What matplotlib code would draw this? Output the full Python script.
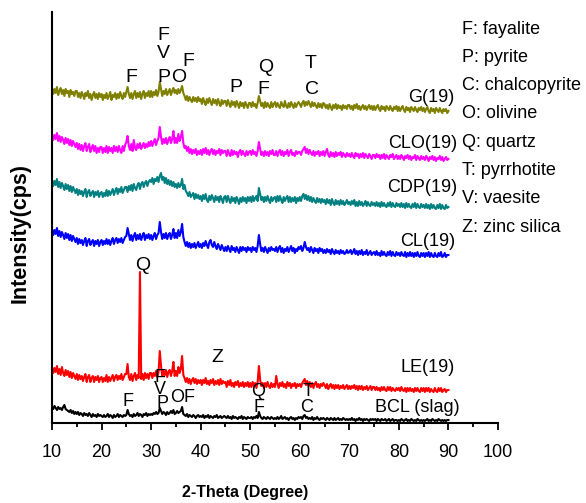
import numpy as np
import matplotlib
matplotlib.use("Agg")
import matplotlib.pyplot as plt

plt.rcParams['font.family'] = ['Liberation Sans', 'DejaVu Sans']

# 2-theta scan from 10 to 90 degrees, 0.25 degree step
two_theta = np.linspace(10, 90, 321)

# intensities (arbitrary cps), one row = 5 degrees
g19 = [
    30, 24, 29, 25, 31, 23, 27, 30, 24, 28, 22, 29, 25, 27, 21, 28, 24, 26, 22, 27,
    27, 21, 25, 20, 26, 23, 19, 25, 22, 27, 20, 24, 18, 23, 26, 20, 24, 19, 25, 21,
    24, 18, 23, 20, 25, 19, 22, 26, 18, 23, 21, 25, 19, 24, 20, 26, 22, 19, 25, 21,
    26, 31, 24, 20, 25, 19, 24, 27, 20, 25, 21, 26, 19, 24, 27, 20, 25, 22, 27, 21,
    27, 21, 26, 23, 28, 22, 26, 36, 29, 22, 27, 24, 29, 23, 26, 29, 23, 27, 30, 25,
    28, 24, 29, 25, 28, 32, 25, 22, 18, 22, 17, 21, 18, 16, 21, 17, 20, 16, 21, 17,
    19, 14, 20, 16, 13, 19, 15, 20, 16, 13, 19, 15, 18, 13, 19, 15, 12, 18, 14, 17,
    17, 12, 18, 14, 11, 17, 13, 16, 11, 17, 14, 10, 16, 12, 15, 10, 16, 13, 10, 15,
    15, 11, 16, 12, 14, 10, 15, 22, 17, 12, 15, 10, 16, 11, 15, 12, 10, 16, 11, 14,
    16, 11, 15, 12, 10, 16, 13, 11, 17, 12, 10, 15, 11, 16, 13, 10, 15, 11, 14, 16,
    14, 11, 15, 17, 12, 16, 13, 17, 14, 11, 16, 12, 15, 12, 10, 15, 11, 14, 10, 15,
    14, 10, 13, 9, 14, 11, 8, 13, 10, 14, 9, 13, 10, 12, 8, 13, 10, 12, 9, 13,
    13, 9, 12, 8, 13, 10, 14, 9, 12, 8, 11, 13, 9, 12, 8, 11, 13, 9, 12, 8,
    12, 8, 11, 13, 9, 7, 12, 9, 11, 7, 12, 10, 8, 12, 9, 7, 11, 9, 12, 7,
    11, 7, 10, 12, 8, 6, 11, 8, 10, 6, 11, 9, 7, 11, 8, 6, 10, 8, 11, 7,
    10, 6, 9, 11, 7, 5, 10, 7, 9, 5, 10, 8, 6, 10, 7, 5, 9, 7, 9, 5,
    7]

clo19 = [
    31, 25, 30, 26, 32, 24, 29, 23, 28, 25, 21, 27, 22, 26, 20, 25, 19, 24, 21, 18,
    22, 16, 21, 15, 20, 14, 19, 22, 14, 18, 21, 13, 17, 20, 14, 19, 12, 17, 13, 18,
    18, 12, 17, 13, 19, 12, 18, 14, 17, 12, 19, 14, 18, 13, 19, 15, 12, 19, 14, 20,
    23, 29, 19, 15, 21, 14, 25, 17, 15, 21, 17, 22, 16, 19, 22, 17, 21, 18, 23, 19,
    24, 19, 23, 26, 20, 24, 27, 38, 28, 21, 26, 22, 27, 21, 25, 28, 22, 26, 34, 22,
    27, 22, 31, 24, 28, 34, 22, 17, 19, 14, 18, 12, 16, 11, 15, 12, 16, 10, 14, 11,
    15, 10, 16, 12, 17, 11, 15, 10, 14, 16, 11, 15, 10, 14, 12, 16, 10, 15, 12, 14,
    14, 9, 15, 11, 9, 15, 10, 14, 11, 13, 8, 13, 15, 10, 14, 11, 9, 14, 10, 13,
    14, 10, 15, 11, 13, 9, 14, 23, 16, 10, 13, 9, 14, 10, 13, 9, 14, 11, 15, 10,
    10, 14, 9, 13, 15, 10, 14, 9, 13, 11, 15, 9, 13, 15, 10, 12, 9, 14, 11, 13,
    13, 10, 14, 16, 18, 12, 16, 11, 15, 12, 10, 14, 9, 13, 11, 14, 9, 13, 10, 14,
    9, 13, 16, 10, 8, 13, 9, 12, 8, 13, 9, 12, 10, 13, 8, 12, 10, 8, 12, 9,
    11, 8, 12, 9, 7, 12, 9, 11, 7, 11, 8, 12, 7, 11, 9, 7, 11, 9, 6, 10,
    10, 7, 11, 8, 10, 6, 10, 7, 11, 6, 10, 8, 6, 10, 8, 11, 6, 8, 10, 6,
    9, 6, 10, 8, 5, 9, 7, 10, 6, 9, 5, 8, 7, 10, 5, 9, 7, 5, 9, 6,
    8, 5, 9, 7, 4, 8, 6, 9, 5, 8, 4, 7, 6, 9, 5, 8, 4, 6, 8, 5,
    6]

cdp19 = [
    33, 27, 32, 28, 34, 26, 31, 25, 30, 27, 23, 29, 24, 28, 22, 27, 21, 26, 23, 20,
    24, 18, 23, 19, 22, 17, 21, 24, 16, 21, 23, 17, 20, 22, 16, 21, 18, 22, 16, 20,
    21, 16, 20, 17, 23, 17, 22, 18, 21, 24, 18, 22, 25, 19, 24, 21, 26, 20, 23, 26,
    26, 21, 27, 23, 28, 22, 29, 25, 23, 28, 30, 24, 29, 31, 26, 30, 32, 27, 31, 33,
    31, 35, 29, 34, 32, 36, 31, 37, 40, 33, 36, 30, 35, 29, 33, 28, 32, 27, 31, 26,
    29, 25, 30, 26, 28, 34, 24, 28, 22, 20, 17, 21, 16, 18, 20, 14, 19, 15, 18, 14,
    17, 12, 18, 14, 19, 13, 11, 17, 13, 18, 15, 11, 17, 13, 16, 11, 17, 14, 10, 16,
    17, 11, 17, 13, 10, 16, 12, 15, 10, 16, 13, 9, 15, 11, 16, 12, 15, 10, 16, 12,
    16, 11, 17, 12, 15, 17, 12, 25, 19, 13, 16, 11, 16, 12, 17, 13, 10, 16, 12, 15,
    16, 11, 17, 12, 17, 13, 10, 16, 12, 15, 17, 11, 16, 11, 15, 12, 16, 10, 15, 12,
    16, 12, 17, 19, 14, 18, 13, 17, 12, 16, 11, 15, 12, 10, 15, 11, 14, 10, 14, 11,
    13, 9, 14, 10, 13, 8, 14, 10, 8, 13, 9, 12, 8, 13, 9, 12, 8, 10, 13, 9,
    11, 8, 12, 9, 13, 7, 11, 7, 12, 8, 11, 7, 9, 12, 7, 11, 8, 7, 11, 8,
    10, 7, 11, 7, 10, 6, 11, 7, 10, 7, 6, 10, 7, 11, 6, 10, 7, 6, 10, 7,
    9, 6, 10, 6, 9, 5, 10, 6, 9, 6, 5, 9, 6, 10, 5, 9, 6, 5, 9, 6,
    8, 5, 9, 5, 8, 4, 9, 5, 8, 5, 4, 8, 5, 9, 4, 8, 5, 4, 8, 5,
    6]

cl19 = [
    32, 26, 31, 27, 33, 25, 30, 24, 29, 26, 22, 28, 23, 27, 21, 26, 20, 25, 22, 19,
    23, 17, 22, 18, 21, 16, 20, 23, 15, 20, 22, 16, 19, 21, 15, 20, 17, 21, 15, 19,
    21, 16, 20, 17, 22, 17, 21, 16, 20, 23, 17, 21, 23, 18, 22, 19, 23, 18, 21, 24,
    25, 33, 27, 21, 26, 20, 25, 28, 21, 26, 22, 27, 21, 25, 28, 21, 26, 23, 27, 22,
    26, 21, 25, 28, 22, 26, 28, 39, 29, 22, 27, 23, 28, 22, 26, 28, 22, 26, 32, 23,
    28, 23, 31, 25, 29, 37, 24, 19, 15, 19, 14, 18, 13, 17, 14, 18, 13, 16, 19, 14,
    17, 13, 18, 15, 20, 16, 13, 19, 21, 16, 14, 19, 15, 12, 17, 14, 11, 16, 13, 10,
    14, 10, 15, 12, 9, 15, 11, 13, 9, 14, 11, 8, 14, 10, 14, 11, 13, 9, 14, 11,
    13, 9, 14, 11, 13, 9, 15, 26, 17, 10, 13, 9, 14, 11, 8, 13, 10, 14, 11, 12,
    10, 14, 9, 13, 15, 9, 13, 8, 12, 10, 14, 9, 12, 15, 10, 13, 8, 12, 10, 14,
    12, 15, 10, 13, 19, 14, 11, 13, 9, 14, 11, 8, 13, 10, 12, 8, 13, 10, 12, 8,
    11, 8, 12, 9, 11, 7, 12, 9, 7, 11, 8, 10, 7, 11, 8, 10, 7, 8, 11, 8,
    9, 11, 7, 9, 12, 7, 10, 6, 10, 7, 11, 6, 9, 7, 11, 6, 8, 10, 6, 8,
    9, 6, 10, 6, 8, 5, 10, 6, 9, 6, 5, 9, 6, 10, 5, 9, 6, 5, 9, 6,
    8, 5, 9, 6, 5, 9, 4, 8, 5, 9, 5, 8, 4, 8, 5, 9, 5, 4, 8, 5,
    8, 4, 8, 5, 9, 4, 8, 5, 4, 8, 5, 4, 8, 5, 9, 4, 5, 8, 4, 6,
    6]

le19 = [
    28, 22, 27, 23, 29, 21, 26, 20, 28, 22, 19, 25, 20, 24, 18, 23, 17, 22, 19, 16,
    21, 15, 20, 16, 19, 14, 18, 21, 13, 18, 20, 13, 17, 19, 13, 18, 15, 19, 13, 17,
    18, 13, 17, 14, 20, 13, 18, 14, 17, 20, 14, 18, 20, 15, 19, 16, 21, 15, 18, 21,
    21, 31, 18, 15, 21, 14, 19, 22, 15, 20, 17, 123, 16, 21, 15, 22, 17, 21, 16, 22,
    22, 17, 22, 19, 24, 18, 23, 44, 29, 19, 24, 20, 25, 18, 23, 25, 19, 24, 33, 19,
    24, 19, 28, 22, 26, 39, 20, 17, 13, 17, 12, 16, 11, 15, 17, 12, 16, 11, 15, 12,
    15, 10, 15, 12, 17, 11, 14, 10, 15, 12, 16, 10, 14, 11, 15, 10, 16, 11, 14, 12,
    13, 8, 14, 10, 15, 9, 12, 8, 13, 10, 14, 8, 12, 9, 13, 8, 12, 9, 13, 8,
    12, 8, 13, 9, 12, 7, 13, 29, 15, 9, 12, 7, 12, 8, 13, 9, 7, 12, 8, 11,
    8, 19, 11, 7, 12, 9, 13, 8, 11, 7, 13, 9, 12, 7, 11, 9, 12, 7, 11, 9,
    11, 8, 12, 14, 16, 10, 14, 9, 13, 8, 12, 7, 11, 13, 8, 11, 7, 11, 9, 12,
    10, 7, 11, 6, 9, 11, 7, 10, 6, 10, 7, 10, 6, 9, 7, 10, 6, 8, 10, 6,
    9, 6, 9, 7, 10, 6, 9, 5, 9, 6, 9, 5, 8, 6, 9, 5, 7, 9, 5, 8,
    8, 5, 8, 5, 7, 4, 8, 5, 8, 5, 4, 8, 5, 8, 4, 7, 5, 4, 7, 5,
    7, 4, 8, 5, 4, 7, 3, 7, 4, 7, 4, 6, 3, 7, 4, 7, 4, 3, 7, 4,
    7, 3, 7, 4, 7, 3, 6, 4, 3, 7, 4, 3, 7, 4, 7, 3, 5, 6, 3, 5,
    5]

bcl_slag = [
    16, 14, 17, 15, 13, 16, 14, 15, 13, 16, 18, 14, 13, 12, 11, 13, 10, 12, 9, 11,
    9, 11, 8, 10, 9, 7, 10, 8, 9, 7, 10, 8, 6, 9, 7, 8, 6, 9, 7, 8,
    7, 6, 8, 6, 7, 9, 6, 8, 7, 5, 8, 6, 7, 9, 6, 8, 7, 6, 8, 7,
    8, 13, 9, 7, 8, 6, 9, 7, 8, 10, 7, 9, 8, 6, 9, 8, 10, 7, 9, 8,
    9, 8, 10, 9, 11, 9, 10, 15, 12, 9, 11, 10, 8, 11, 9, 10, 12, 10, 13, 9,
    10, 12, 10, 11, 12, 16, 9, 8, 7, 9, 6, 8, 7, 6, 8, 7, 5, 7, 8, 6,
    7, 6, 8, 5, 7, 6, 8, 5, 7, 6, 5, 7, 6, 8, 5, 6, 7, 5, 6, 7,
    6, 5, 7, 5, 6, 4, 7, 5, 6, 5, 4, 6, 5, 7, 4, 6, 5, 4, 6, 5,
    5, 6, 4, 6, 5, 7, 5, 11, 7, 5, 4, 6, 5, 4, 6, 5, 4, 6, 5, 4,
    5, 4, 6, 4, 5, 7, 4, 5, 6, 4, 5, 3, 5, 6, 4, 5, 3, 5, 4, 6,
    5, 6, 4, 7, 8, 5, 6, 4, 5, 4, 6, 3, 5, 4, 6, 4, 3, 5, 4, 5,
    4, 3, 5, 4, 3, 5, 4, 3, 5, 3, 4, 5, 3, 4, 3, 5, 4, 3, 4, 3,
    4, 3, 5, 3, 4, 2, 4, 3, 5, 3, 4, 2, 4, 3, 4, 3, 2, 4, 3, 4,
    3, 4, 2, 4, 3, 2, 4, 3, 3, 4, 2, 3, 4, 2, 3, 4, 2, 3, 3, 2,
    3, 2, 4, 3, 2, 3, 4, 2, 3, 2, 4, 3, 2, 3, 2, 4, 3, 2, 3, 2,
    3, 2, 3, 4, 2, 3, 2, 4, 3, 2, 3, 2, 4, 3, 2, 3, 2, 3, 2, 3,
    3]

sample_names = ["G(19)", "CLO(19)", "CDP(19)", "CL(19)", "LE(19)", "BCL (slag)"]
sample_data = [g19, clo19, cdp19, cl19, le19, bcl_slag]
sample_colors = ["#808000", "#FF00FF", "#008080", "#0000FF", "#FF0000", "#000000"]
stack_offsets = [305, 258, 210, 162, 28, 0]

phase_legend = ["F: fayalite", "P: pyrite", "C: chalcopyrite", "O: olivine",
                "Q: quartz", "T: pyrrhotite", "V: vaesite", "Z: zinc silica"]

fig = plt.figure(figsize=(5.86, 5.03), dpi=100)
ax = fig.add_axes([52 / 586, 80 / 503, 446 / 586, 411 / 503])

for data, color, off in zip(sample_data, sample_colors, stack_offsets):
    ax.plot(two_theta, np.array(data) + off, color=color, lw=1.5)

# sample labels next to each pattern
label_pos = [(86.6, 326), (84.8, 279), (84.8, 235), (85.8, 181), (85.8, 55), (83.8, 16)]
for name, (lx, ly) in zip(sample_names, label_pos):
    ax.text(lx, ly, name, fontsize=13, ha='center', va='center')

# phase marks on G(19)
top_marks = [("F", 26.1, 345), ("F", 32.4, 388), ("V", 32.4, 370), ("P", 32.6, 346),
             ("O", 35.6, 346), ("F", 37.6, 362), ("P", 47.1, 336), ("Q", 53.1, 356),
             ("F", 52.7, 334), ("T", 62.2, 360), ("C", 62.4, 333)]
for s, mx, my in top_marks:
    ax.text(mx, my, s, fontsize=14, ha='center', va='center')

# phase marks on LE(19) / BCL (slag)
low_marks = [("F", 25.3, 21), ("F", 31.8, 46), ("V", 31.8, 33), ("P", 32.2, 20),
             ("O", 35.2, 25), ("F", 37.6, 26), ("Q", 51.5, 31), ("F", 51.7, 16),
             ("T", 61.6, 31), ("C", 61.4, 15)]
for s, mx, my in low_marks:
    ax.text(mx, my, s, fontsize=13, ha='center', va='center')
ax.text(43.3, 66, "Z", fontsize=14, ha='center', va='center')
ax.text(28.3, 158, "Q", fontsize=14, ha='center', va='center')

for i, txt in enumerate(phase_legend):
    fig.text(462 / 586, 1 - (29 + i * 28.3) / 503, txt, fontsize=13, ha='left', va='center')

ax.set_xlim(10, 100)
ax.set_ylim(0, 411)
ax.set_xticks(range(10, 101, 10))
ax.set_xticks(range(15, 100, 10), minor=True)
ax.set_yticks([])
ax.tick_params(axis='x', which='major', direction='out', length=5, width=1.3, labelsize=13, pad=10)
ax.tick_params(axis='x', which='minor', direction='out', length=3, width=1.3)
ax.spines['top'].set_visible(False)
ax.spines['right'].set_visible(False)
ax.spines['left'].set_linewidth(1.5)
ax.spines['bottom'].set_linewidth(1.5)

ax.set_xlabel("2-Theta (Degree)", fontsize=11.5, fontweight='bold')
ax.xaxis.set_label_coords((245 - 52) / 446, (423 - 493) / 411)
ax.xaxis.label.set_verticalalignment('center')
ax.set_ylabel("Intensity(cps)", fontsize=15.5, fontweight='bold')
ax.yaxis.set_label_coords((20 - 52) / 446, (423 - 233) / 411)
ax.yaxis.label.set_verticalalignment('center')

fig.savefig("out.png", dpi=100)
